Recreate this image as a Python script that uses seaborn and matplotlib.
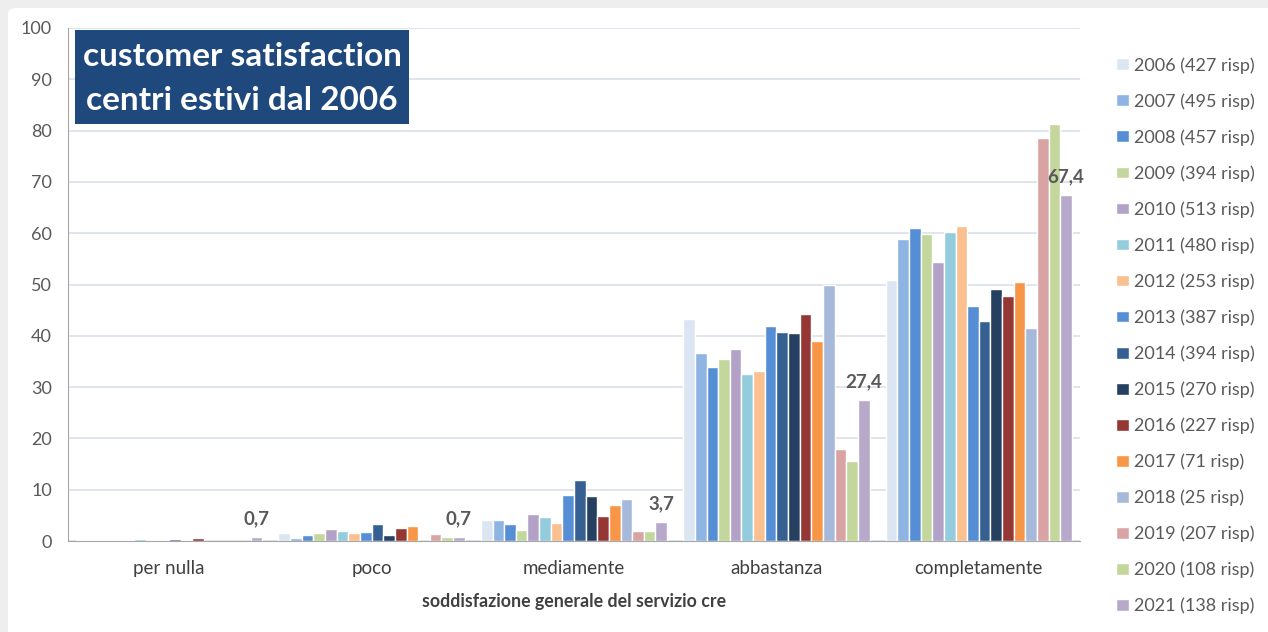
import numpy as np
import pandas as pd
import seaborn as sns
import matplotlib as mpl
mpl.use('Agg')
import matplotlib.pyplot as plt
from matplotlib.patches import Rectangle, FancyBboxPatch

# dati
categorie = ['per nulla', 'poco', 'mediamente', 'abbastanza', 'completamente']
anni = ['2006 (427 risp)', '2007 (495 risp)', '2008 (457 risp)', '2009 (394 risp)',
        '2010 (513 risp)', '2011 (480 risp)', '2012 (253 risp)', '2013 (387 risp)',
        '2014 (394 risp)', '2015 (270 risp)', '2016 (227 risp)', '2017 (71 risp)',
        '2018 (25 risp)', '2019 (207 risp)', '2020 (108 risp)', '2021 (138 risp)']
per_nulla = [0.1, 0.1, 0.1, 0.2, 0.2, 0.4, 0.2, 0.2, 0.3, 0.1, 0.5, 0.0, 0.0, 0.0, 0.0, 0.7]
poco = [1.6, 0.5, 1.1, 1.6, 2.3, 1.9, 1.6, 1.8, 3.3, 1.1, 2.6, 2.9, 0.0, 1.4, 0.8, 0.7]
mediamente = [4.1, 4.1, 3.4, 2.1, 5.2, 4.7, 3.6, 9.0, 11.9, 8.8, 4.8, 7.1, 8.2, 1.9, 1.9, 3.7]
abbastanza = [43.2, 36.6, 34.0, 35.5, 37.4, 32.5, 33.1, 41.9, 40.8, 40.5, 44.2, 39.0,
              49.9, 17.9, 15.5, 27.4]
completamente = [50.8, 58.8, 61.1, 59.9, 54.4, 60.2, 61.4, 45.8, 42.8, 49.2, 47.7, 50.5,
                 41.5, 78.5, 81.2, 67.4]
colori = ['#DCE6F2', '#8EB4E3', '#558ED5', '#C3D69B', '#B3A2C7', '#93CDDD', '#FAC090',
          '#558ED5', '#376092', '#254061', '#953735', '#F79646', '#A6B9DA', '#D9A3A3',
          '#C3D69B', '#B7A9CA']

valori = [per_nulla, poco, mediamente, abbastanza, completamente]
righe = []
for cat, vals in zip(categorie, valori):
    for anno, v in zip(anni, vals):
        righe.append({'categoria': cat, 'anno': anno, 'valore': v})
df = pd.DataFrame(righe)

sns.set_style('white')
plt.rcParams['font.family'] = ['Lato', 'DejaVu Sans']

fig = plt.figure(figsize=(12.68, 6.32), dpi=100)
fig.patch.set_facecolor('#EEEEEE')
# cornice grigia della schermata
fig.patches.append(FancyBboxPatch((8 / 1268, -0.05), 1.1, 1 - 8 / 632 + 0.05,
                                  boxstyle='round,pad=0,rounding_size=0.008',
                                  transform=fig.transFigure, facecolor='white',
                                  edgecolor='none', zorder=-10))
ax = fig.add_axes([68 / 1268, 1 - 541 / 632, 1012 / 1268, 513 / 632])
ax.set_facecolor('none')

sns.barplot(data=df, x='categoria', y='valore', hue='anno', order=categorie,
            hue_order=anni, palette=colori, width=0.92, gap=0, saturation=1,
            errorbar=None, ax=ax, legend=True)

ax.set_ylim(0, 100)
ax.set_xlim(-0.5, 4.5)
ax.set_yticks(np.arange(0, 101, 10))
ax.yaxis.grid(True, color='#D5DEEA', linewidth=1.1)
ax.set_axisbelow(True)
for s in ['top', 'right']:
    ax.spines[s].set_visible(False)
ax.spines['left'].set_color('#A6A6A6')
ax.spines['bottom'].set_color('#A6A6A6')
ax.tick_params(axis='y', labelsize=13, colors='#595959', length=6.5, width=1,
               color='#A6A6A6', pad=5)
ax.tick_params(axis='x', labelsize=13.5, colors='#404040', length=0, pad=13.5)
ax.set_xticks(np.arange(-0.5, 4.6, 1), minor=True)
ax.tick_params(axis='x', which='minor', length=6, color='#A6A6A6', width=1)
ax.set_ylabel('')
ax.set_xlabel('soddisfazione generale del servizio cre', fontsize=12.8,
              fontweight='bold', color='#404040', labelpad=12)

# etichette sul 2021
ultimo = ax.containers[-1]
ax.bar_label(ultimo, labels=[f'{v[-1]:.1f}'.replace('.', ',') for v in valori],
             padding=7, fontsize=13.5, fontweight='bold', color='#595959')

leg = ax.legend(loc='upper left', bbox_to_anchor=(1116 / 1268, 1 - 57 / 632),
                bbox_transform=fig.transFigure, frameon=False, fontsize=13,
                labelspacing=1.08, handlelength=0.72, handleheight=0.62,
                handletextpad=0.3, borderpad=0, borderaxespad=0, labelcolor='#595959')

# riquadro titolo
fig.patches.append(Rectangle((75 / 1268, 1 - 124 / 632), 334 / 1268, 94 / 632,
                             transform=fig.transFigure, facecolor='#1F497D',
                             edgecolor='none', zorder=5))
fig.text(242 / 1268, 1 - 57 / 632, 'customer satisfaction', ha='center', va='center',
         fontsize=24, fontweight='bold', color='white', zorder=6)
fig.text(242 / 1268, 1 - 100 / 632, 'centri estivi dal 2006', ha='center', va='center',
         fontsize=24, fontweight='bold', color='white', zorder=6)

plt.savefig('out.png', dpi=100, facecolor=fig.get_facecolor())
